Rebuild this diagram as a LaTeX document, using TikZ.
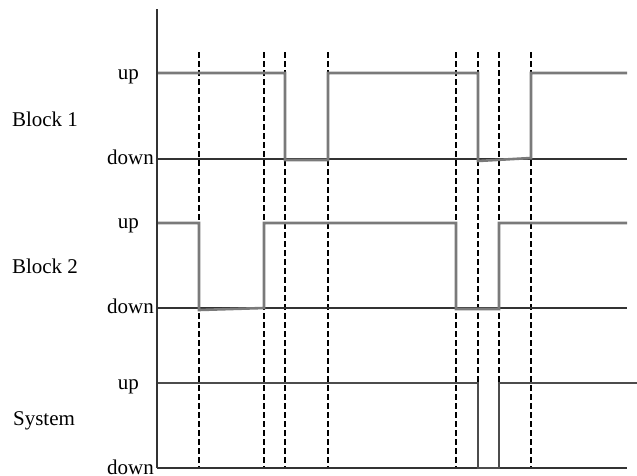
\documentclass[tikz,border=0pt]{standalone}
\usepackage{fontspec}
\setmainfont{Liberation Serif}
\begin{document}
\begin{tikzpicture}[x=1pt,y=-1pt,
  lbl/.style={font=\fontsize{21}{25}\selectfont, inner sep=0pt, anchor=base},
  lvl/.style={font=\fontsize{21}{25}\selectfont, inner sep=0pt, anchor=base east},
  base/.style={draw=black!80, line width=1.6pt},
  sig/.style={draw=black!52, line width=2.6pt, line join=miter},
  syssig/.style={draw=black!70, line width=2.6pt},
  guide/.style={draw=black, line width=1.1pt, dash pattern=on 5.5pt off 3.5pt}]
\useasboundingbox (0,0) rectangle (637,475);
% dashed guides
\foreach \x in {199,264,285,328,456,478,499,531}
  \draw[guide] (\x,52) -- (\x,468);
% baselines
\draw[base] (157,159) -- (627,159);
\draw[base] (157,308) -- (627,308);
\draw[base] (157,468) -- (627,468);
% Block 1 signal
\draw[sig] (157,73) -- (285,73) -- (285,160) -- (328,160) -- (328,73) -- (478,73)
  -- (478,161) -- (531,158) -- (531,73) -- (627,73);
% Block 2 signal
\draw[sig] (157,223) -- (199,223) -- (199,310) -- (264,308) -- (264,223) -- (456,223)
  -- (456,309) -- (499,309) -- (499,223) -- (627,223);
% System signal
\draw[syssig] (157,383) -- (478,383) -- (478,468) -- (499,468) -- (499,383) -- (637,383);
% axis
\draw[base] (157,9) -- (157,468);
% labels
\node[lbl] (b1) at (45,126) {Block 1};
\node[lbl] (b2) at (45,273) {Block 2};
\node[lbl] (sy) at (44,425) {System};
\node[lvl] (u1) at (139,79) {up};
\node[lvl] (d1) at (154,164) {down};
\node[lvl] (u2) at (139,228) {up};
\node[lvl] (d2) at (154,313) {down};
\node[lvl] (u3) at (139,389) {up};
\node[lvl] (d3) at (154,474) {down};
\end{tikzpicture}
\end{document}
